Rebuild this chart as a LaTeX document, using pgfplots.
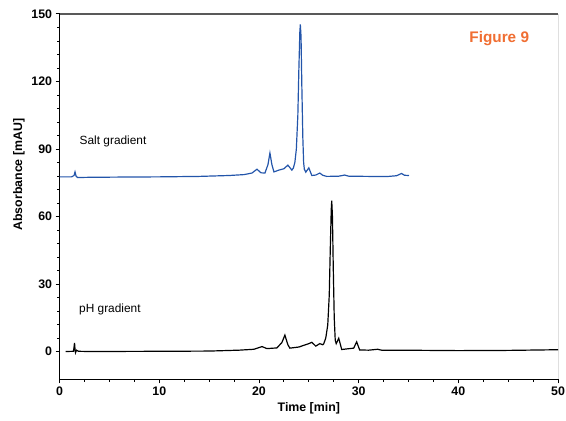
\documentclass[border=0pt]{standalone}
\usepackage{fontspec}
\setmainfont{Liberation Sans}
\usepackage{pgfplots}
\pgfplotsset{compat=1.18}
\definecolor{saltblue}{RGB}{35,85,170}
\definecolor{figorange}{RGB}{240,110,50}
\begin{document}
\begin{tikzpicture}
\useasboundingbox (-60bp,-41bp) rectangle (510bp,382bp);
\begin{axis}[
  at={(0,0)}, anchor=south west,
  scale only axis, width=502bp, height=368bp,
  xmin=0, xmax=50, ymin=-12.35, ymax=150,
  xtick={0,10,...,50}, ytick={0,30,...,150},
  minor x tick num=3, minor y tick num=4,
  axis x line*=bottom, axis y line*=left,
  tick align=outside,
  major tick length=4bp, minor tick length=2.5bp,
  axis line style={line width=1.2bp, -},
  every tick/.style={black, line width=0.8bp},
  ticklabel style={font=\fontsize{12.5}{14}\selectfont\bfseries},
  /pgf/number format/assume math mode=true,
  xlabel={Time [min]}, ylabel={Absorbance [mAU]},
  label style={font=\fontsize{12.5}{14}\selectfont\bfseries},
  ylabel style={at={(ticklabel cs:0.56)}},
]
\draw[gray!70!black, line width=1.5bp] (rel axis cs:0,1) -- (rel axis cs:1,1);
\draw[black, line width=0.8bp] (rel axis cs:1,0) -- (rel axis cs:1,1);

% Salt gradient (blue)
\addplot[saltblue, line width=1.2bp] coordinates {
(0,77.6) (0.5,77.6) (1.2,77.6) (1.45,78.2) (1.55,79.8) (1.65,78.0) (1.8,77.3)
(3,77.4) (6,77.5) (10,77.6) (14,77.8) (17,78.2) (18.5,78.6) (19.3,79.3)
(19.8,81.0) (20.2,79.4) (20.6,79.3) (20.9,83) (21.1,88.2) (21.3,83) (21.5,79.8)
(22.0,80.6) (22.5,81.2) (22.9,82.8) (23.3,80.6) (23.45,81.5)
(23.60,84) (23.75,90) (23.90,105) (24.00,125) (24.10,142) (24.15,145.3)
(24.22,140) (24.30,118) (24.40,95) (24.48,84) (24.55,81) (24.70,79.7)
(25.0,81.6) (25.3,78.2) (25.7,78.4) (26.1,79.3) (26.4,78.3) (26.8,77.8)
(28.0,77.9) (28.6,78.4) (29.0,77.9) (31,77.8) (33,77.8) (33.8,78.1)
(34.3,79.1) (34.6,78.3) (35.05,78.2)
};

% pH gradient (black)
\addplot[black, line width=1.2bp] coordinates {
(0.6,0) (1.4,0.1) (1.5,3.8) (1.55,1) (1.6,-0.5) (1.7,0.6) (1.9,0.1)
(3,0) (10,0.1) (15,0.2) (18,0.6) (19.5,1.0) (20.3,2.2) (20.8,1.3)
(21.8,1.6) (22.3,4) (22.6,7.3) (22.9,3) (23.1,1.5) (24.0,2.0) (24.4,2.6)
(25.0,3.5) (25.3,4.1) (25.7,2.4) (26.1,3.5) (26.4,3.0)
(26.5,3.5) (26.7,6) (26.9,11.8) (27.05,25) (27.15,45) (27.25,63) (27.3,67)
(27.37,60) (27.45,38) (27.55,15) (27.65,5) (27.75,3.5) (28.0,5.9) (28.3,0.9)
(29.5,1.5) (29.8,4.3) (30.1,0.7) (31.0,0.6) (31.9,1.0) (32.3,0.6)
(34,0.6) (40,0.4) (45,0.5) (50,0.8)
};

\node[anchor=west, inner sep=0pt, font=\fontsize{12}{14}\selectfont] at (axis cs:2.0,93.5) {Salt gradient};
\node[anchor=west, inner sep=0pt, font=\fontsize{12}{14}\selectfont] at (axis cs:1.95,18.5) {pH gradient};
\node[font=\fontsize{15.5}{18}\selectfont\bfseries, text=figorange] at (axis cs:44.1,139) {Figure 9};
\end{axis}
\end{tikzpicture}
\end{document}
